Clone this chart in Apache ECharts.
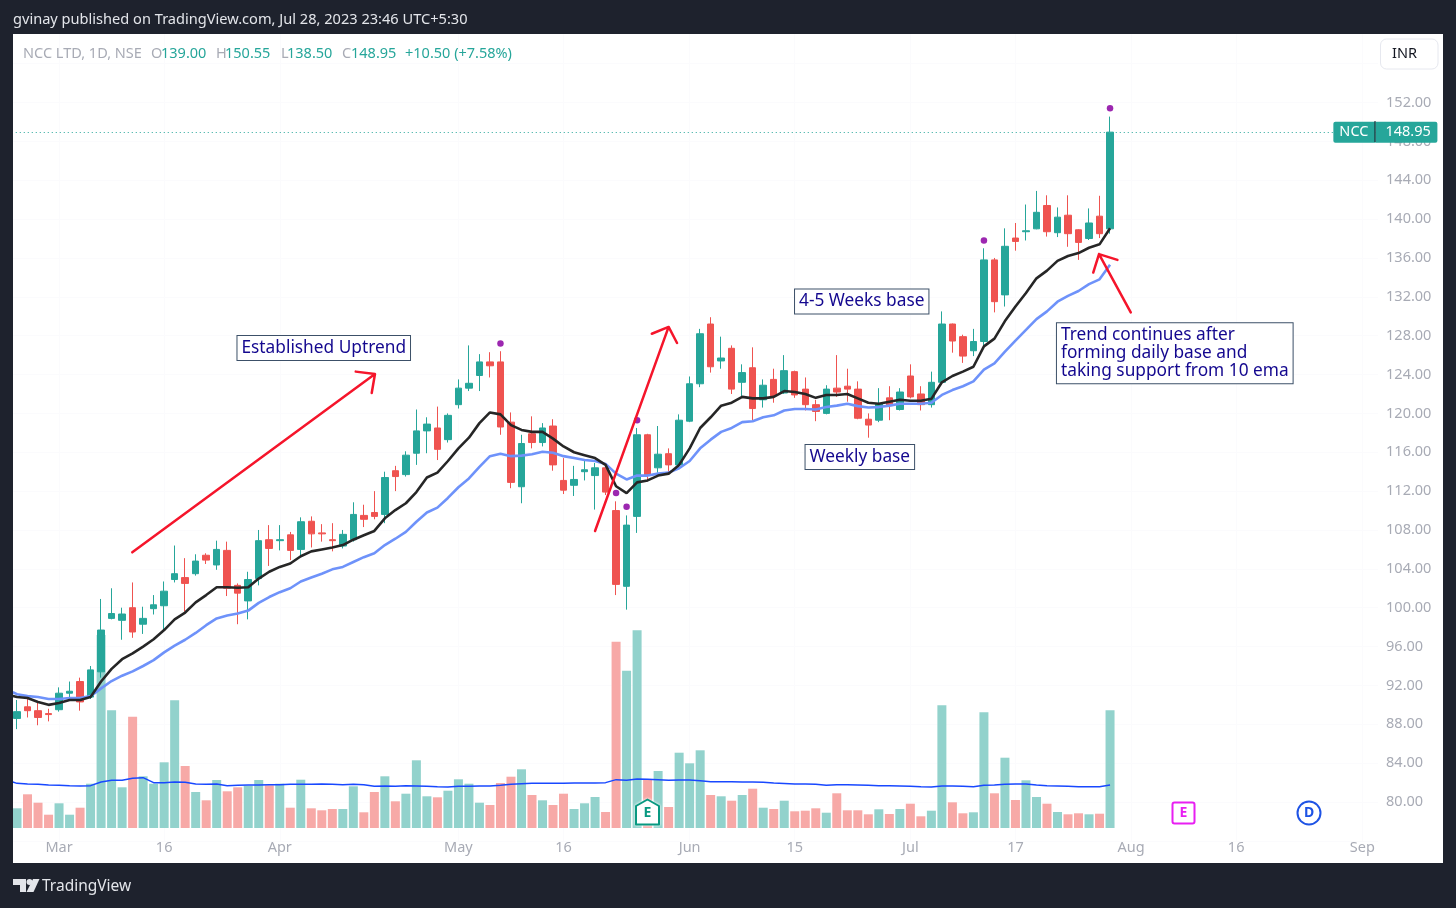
<!DOCTYPE html>
<html>
<head>
<meta charset="utf-8">
<title>NCC LTD, 1D, NSE</title>
<script src="https://cdn.jsdelivr.net/npm/echarts@6/dist/echarts.min.js"></script>
<style>
  html, body { margin: 0; padding: 0; background: #1e222d; }
  #chart { width: 1456px; height: 908px; }
</style>
</head>
<body>
<div id="chart"></div>
<script>
// daily prices
const opens = [88.6,89.8,89.4,89.1,89.5,91.2,92.4,90.8,93.4,98.9,98.7,100.0,98.3,99.9,100.2,102.9,103.1,103.5,105.4,104.4,105.9,102.3,100.7,103.0,107.0,106.9,107.5,106.0,108.9,107.7,107.0,106.35,107.0,109.5,109.8,109.6,114.1,113.7,115.9,118.2,118.5,117.3,120.9,122.6,123.9,125.3,125.3,119.1,112.45,117.9,117.0,118.7,113.1,112.6,114.0,113.6,114.4,110.0,102.2,109.4,117.8,114.4,115.85,114.7,119.2,123.05,129.2,125.4,126.7,123.2,124.7,121.4,123.5,122.1,124.3,122.5,120.9,120.0,122.6,122.8,122.5,119.4,119.3,121.6,120.4,123.85,122.0,120.9,123.2,129.2,127.9,126.45,127.4,135.8,132.2,138.05,138.7,139.0,141.4,138.6,140.4,138.9,138.0,140.3,139.0]
const highs = [90.5,91.0,90.3,89.6,91.8,92.4,92.8,94.0,100.9,102.0,100.0,102.6,100.1,101.3,102.7,106.4,105.1,105.5,105.6,106.9,106.8,102.5,103.7,108.0,108.5,108.5,107.8,109.3,109.4,108.6,108.7,108.0,110.85,110.6,112.0,114.0,114.6,116.1,120.4,119.6,120.7,120.0,123.5,127.0,126.1,126.3,126.4,120.1,117.8,119.7,119.0,119.4,115.4,114.6,115.2,114.9,114.9,110.95,109.5,118.5,117.9,118.7,116.4,119.9,123.8,128.7,129.9,127.9,127.0,125.05,126.8,123.5,124.6,126.0,124.4,123.7,121.4,122.9,126.0,124.6,123.3,120.0,122.6,122.8,122.6,125.05,122.8,124.3,130.5,129.25,128.1,128.7,137.0,136.0,139.05,139.6,141.5,142.9,142.45,141.2,142.45,138.95,141.1,142.4,150.55]
const lows = [87.5,88.7,87.9,88.3,89.3,90.8,89.4,90.6,92.8,98.8,96.7,96.9,97.3,99.3,97.8,102.6,99.6,103.3,104.5,103.9,101.2,98.3,98.8,102.3,104.3,105.9,104.9,105.2,106.2,106.8,105.8,106.1,106.8,108.3,109.1,108.7,112.0,113.5,114.7,115.9,115.2,117.0,120.5,122.3,122.3,123.7,117.8,112.3,110.75,116.4,116.6,114.1,111.7,111.5,113.1,110.1,111.6,101.3,99.8,107.7,113.0,113.9,113.8,114.5,119.1,122.7,124.2,124.6,122.0,121.7,119.3,120.6,121.1,122.0,121.6,120.3,119.2,119.9,121.7,121.2,119.4,117.5,119.1,119.3,120.3,121.55,120.3,120.6,123.1,126.25,125.2,125.9,126.9,130.4,131.0,136.75,137.8,138.95,138.2,138.15,137.15,135.8,137.85,138.05,138.5]
const closes = [89.3,89.4,88.7,89.0,91.2,91.4,90.3,93.6,97.7,99.4,99.35,97.5,98.9,100.3,101.7,103.5,102.5,104.8,104.9,106.0,102.0,101.5,102.9,106.9,106.1,107.0,105.9,108.85,107.6,107.6,106.9,107.55,109.6,109.1,109.4,113.4,113.5,115.7,118.2,118.9,116.3,119.8,122.6,123.1,125.3,124.9,118.6,112.9,116.9,117.0,118.5,114.7,112.1,113.2,114.2,114.4,111.9,102.4,108.5,117.8,113.6,115.8,114.7,119.3,123.05,128.2,124.8,125.7,122.5,124.2,120.5,122.9,121.8,124.4,121.9,120.9,120.2,122.5,122.2,122.5,119.5,118.8,121.0,120.8,122.2,121.7,120.9,123.2,129.2,127.45,125.9,127.4,135.8,131.5,137.2,137.7,138.8,140.7,138.7,140.2,138.5,137.6,139.6,138.5,148.95]

// moving averages on the price
const emaFast = [90.8,90.7,90.3,90.0,90.2,90.5,90.5,90.8,92.4,93.7,94.7,95.3,96.0,96.75,97.7,98.8,99.5,100.55,101.3,102.1,102.1,102.05,102.1,103.0,103.7,104.2,104.55,105.3,105.8,106.0,106.2,106.45,107.0,107.45,107.9,109.2,110.05,110.75,111.9,113.4,113.9,115.1,116.4,117.5,119.0,120.1,119.9,118.8,118.3,118.1,118.1,117.4,116.6,116.0,115.7,115.4,114.7,112.5,111.8,112.9,113.1,113.6,113.8,114.7,116.4,118.5,119.6,120.8,121.1,121.7,121.55,121.55,121.7,122.3,122.2,122.0,121.6,121.9,121.9,122.0,121.55,121.1,121.0,121.2,121.4,121.3,121.3,121.5,123.2,123.85,124.3,124.8,126.9,127.7,129.5,131.0,132.4,133.9,134.7,135.7,136.2,136.5,137.05,137.4,139.05]
const emaSlow = [91.1,90.9,90.8,90.6,90.6,90.7,90.7,90.9,91.7,92.45,93.0,93.45,94.0,94.6,95.4,96.1,96.7,97.4,98.2,98.9,99.2,99.4,99.7,100.5,101.1,101.6,102.0,102.7,103.1,103.5,103.95,104.2,104.7,105.2,105.6,106.45,107.1,107.8,108.85,109.8,110.3,111.3,112.4,113.3,114.5,115.6,115.85,115.6,115.65,115.8,116.05,115.95,115.6,115.4,115.2,115.1,114.8,113.8,113.2,113.6,113.6,113.8,113.9,114.35,115.1,116.4,117.3,118.1,118.5,119.1,119.2,119.6,119.8,120.3,120.45,120.45,120.4,120.65,120.8,121.0,120.75,120.6,120.65,120.8,121.0,121.0,121.0,121.1,121.9,122.4,122.8,123.3,124.5,125.15,126.35,127.5,128.6,129.7,130.5,131.5,132.1,132.6,133.3,133.8,135.3]

// volume, in chart units, and its average
const volumes = [19.7,33.7,25.3,13.3,24.7,13.3,20.3,44.3,193,117.7,40.7,111.3,51.7,44.3,65.7,127.7,62,36,27.7,48,36.7,40.7,42.3,48,42.7,44.3,20.3,48.3,19.7,17.7,19,19,41.7,15.7,36,51.7,26.7,34.3,67.7,31.7,30.7,37.3,48.7,44.3,25.3,23,45,51.3,58.7,33,27.7,23,34.3,19,24.7,31,16,186.3,157.3,197.7,48.3,57,21,75.3,64.7,77.7,33,31.7,27.3,33,39.3,20.3,19,27.3,16.7,17.3,19.7,15.3,34.7,17.7,17.7,13.7,18.7,14,19,24.3,11.7,17.3,122.7,25.7,14.7,15.7,115.7,34.7,70.3,28,47.7,31,24.3,16,13.7,14.7,13.7,14.3,117.7]
const volumeAvg = [44.7,44,43.7,43,42.7,42.3,42,42.3,46,47.7,47.7,49.7,50.3,45.3,45.3,46,45.7,44,43.7,44,42.3,42.7,43,43,43.3,43.3,43.7,43.7,43.7,44,43.7,43.3,43.7,43.3,41.7,42,41.7,42.3,42,41.7,41.3,41,41.7,41.7,42,42,42.7,43.7,44.3,44.7,44.7,44.7,44.7,45,45,45,45.3,48.3,47.7,49,48.7,48.3,47.7,48,48,47.3,46.3,46.3,46.3,46,46,45.7,45,44.5,44,44,43.7,42.7,43.3,43.3,43,42.7,42.3,42.3,42,41.7,41.3,41,42,42,41.7,41.3,42.7,43,43.7,44,44,43,42.3,42,41.7,41.3,41.3,41.3,43]

// where each average comes in at the left edge of the plot, before the first bar
const emaFastEntry = 90.9
const emaSlowEntry = 91.3
const volumeAvgEntry = 46
const entryBar = -0.4

// x axis: 130 slots, 105 traded and the rest future
const slotCount = 130
const tickSlots = [4,14,25,42,52,64,74,85,95,106,116,128]
const tickLabels = ['Mar','16','Apr','May','16','Jun','15','Jul','17','Aug','16','Sep']
const categories = Array.from({ length: slotCount }, (_, i) => {
  const k = tickSlots.indexOf(i)
  return k >= 0 ? tickLabels[k] : 's' + i
})
const priceTicks = [80,84,88,92,96,100,104,108,112,116,120,124,128,132,136,140,144,148,152]

// purple signal dots [bar, price]
const signalDots = [[46,127.2],[57,111.8],[58,110.4],[59,119.3],[92,137.8],[104,151.4]]

// hand drawn arrows, [bar, price] along the pen path
const arrowUptrend = [[10.97,105.7],[34.06,124.05],[32.23,124.3],[34.06,124.05],[33.75,122.1]]
const arrowBounce = [[55.0,107.9],[62.0,128.9],[60.4,128.2],[62.0,128.9],[62.8,127.25]]
const arrowSupport = [[105.97,130.4],[102.95,136.4],[102.4,134.5],[102.95,136.4],[104.7,135.8]]

// text notes [bar at left edge, price at middle, text]
const notes = [
  [20.93,126.73,'Established Uptrend'],
  [73.98,131.52,'4-5 Weeks base'],
  [74.98,115.51,'Weekly base'],
  [98.9,126.2,'Trend continues after\nforming daily base and\ntaking support from 10 ema']
]

const lastClose = 148.95
const UP = '#26a69a'
const DOWN = '#ef5350'
const UP_VOL = '#92d2cc'
const DOWN_VOL = '#f7a9a7'
const GREY = '#a8abb5'
const FONT = '"Noto Sans", sans-serif'
const BAND = 10.51
const PLOT_LEFT = 11.75
const PLOT_W = BAND * slotCount

const chart = echarts.init(document.getElementById('chart'), null, { renderer: 'canvas' })

// line data on the hidden value axes, with the entry point in front
const withEntry = (entry, values) => [[entryBar, entry], ...values.map((v, i) => [i, v])]

const arrowSeries = (data) => ({
  type: 'line',
  xAxisIndex: 2,
  yAxisIndex: 0,
  data,
  symbol: 'none',
  silent: true,
  z: 8,
  lineStyle: { color: '#f5152b', width: 2.5, join: 'round', cap: 'round' }
})

// dark frame, header and footer
const frame = [
  [0, 0, 1456, 34], [0, 0, 13, 908], [1443, 0, 13, 908], [0, 863, 1456, 45]
].map(([x, y, width, height]) => ({
  type: 'rect', z: 100, silent: true, shape: { x, y, width, height }, style: { fill: '#1e222d' }
}))

const label = (x, y, text, fill, size, extra) => ({
  type: 'text', z: 101, silent: true, x, y,
  style: Object.assign({ text, fill, font: (size || 14.5) + 'px ' + FONT, verticalAlign: 'middle' }, extra)
})

const overlay = [
  ...frame,
  label(13, 19.5, 'gvinay published on TradingView.com, Jul 28, 2023 23:46 UTC+5:30', '#e3e5ea', 14.6),
  label(23, 53.5, 'NCC LTD, 1D, NSE', GREY),
  label(151, 53.5, 'O', GREY), label(161, 53.5, '139.00', UP),
  label(216, 53.5, 'H', GREY), label(225, 53.5, '150.55', UP),
  label(281, 53.5, 'L', GREY), label(287, 53.5, '138.50', UP),
  label(342, 53.5, 'C', GREY), label(351, 53.5, '148.95', UP),
  label(405, 53.5, '+10.50 (+7.58%)', UP),
  // currency button
  { type: 'rect', z: 101, silent: true, shape: { x: 1380.5, y: 39, width: 57.5, height: 30, r: 6 }, style: { fill: '#fff', stroke: '#e6e8ef', lineWidth: 1 } },
  label(1392, 54, 'INR', '#131722'),
  // divider inside the last price tag
  { type: 'rect', z: 101, silent: true, shape: { x: 1374.5, y: 121, width: 1, height: 21 }, style: { fill: '#131722' } },
  // earnings flag
  { type: 'polygon', z: 101, silent: true, shape: { points: [[647.5, 799.5], [659, 806], [659, 824.5], [636, 824.5], [636, 806]] }, style: { fill: '#fff', stroke: '#089981', lineWidth: 2, lineJoin: 'round', shadowColor: '#fff', shadowBlur: 3 } },
  label(647.5, 813.5, 'E', '#089981', 14, { align: 'center', font: 'bold 14px ' + FONT }),
  { type: 'rect', z: 101, silent: true, shape: { x: 1172.5, y: 802.5, width: 22, height: 21, r: 2 }, style: { fill: '#fff', stroke: '#e81ff2', lineWidth: 2 } },
  label(1183.5, 813.5, 'E', '#e81ff2', 14, { align: 'center', font: 'bold 14px ' + FONT }),
  { type: 'circle', z: 101, silent: true, shape: { cx: 1309, cy: 813, r: 11.5 }, style: { fill: '#fff', stroke: '#1e53e5', lineWidth: 2 } },
  label(1309, 813.5, 'D', '#1e53e5', 14, { align: 'center', font: 'bold 14px ' + FONT }),
  // footer logo
  { type: 'polygon', z: 101, silent: true, shape: { points: [[13, 879], [26, 879], [26, 892], [20, 892], [20, 885], [13, 885]] }, style: { fill: '#e3e5ea' } },
  { type: 'circle', z: 101, silent: true, shape: { cx: 29.5, cy: 882, r: 3 }, style: { fill: '#e3e5ea' } },
  { type: 'polygon', z: 101, silent: true, shape: { points: [[33, 879], [39.5, 879], [33.5, 892], [26.5, 892]] }, style: { fill: '#e3e5ea' } },
  label(42, 886.5, 'TradingView', '#e3e5ea', 15.5)
]

const option = {
  backgroundColor: '#ffffff',
  animation: false,
  textStyle: { fontFamily: FONT },
  graphic: overlay,
  grid: [
    { left: PLOT_LEFT, width: PLOT_W, top: 24.8, height: 816.06 },
    { left: PLOT_LEFT, width: PLOT_W, top: 628, height: 200 }
  ],
  xAxis: [
    {
      type: 'category',
      gridIndex: 0,
      data: categories,
      axisLine: { show: false },
      axisTick: { show: false },
      splitLine: {
        show: true,
        alignWithLabel: true,
        interval: (i) => tickSlots.includes(i),
        lineStyle: { color: '#fbfbfd' }
      },
      axisLabel: {
        interval: (i) => tickSlots.includes(i),
        formatter: (v) => (tickLabels.includes(v) ? v : ''),
        color: GREY,
        fontSize: 14.5,
        fontFamily: FONT,
        margin: 0,
        hideOverlap: false
      }
    },
    { type: 'category', gridIndex: 1, data: categories, show: false },
    { type: 'value', gridIndex: 0, min: -0.5, max: slotCount - 0.5, show: false },
    { type: 'value', gridIndex: 1, min: -0.5, max: slotCount - 0.5, show: false }
  ],
  yAxis: [
    {
      type: 'value',
      gridIndex: 0,
      position: 'right',
      min: 76,
      max: 160,
      interval: 4,
      axisLine: { show: false },
      axisTick: { show: false },
      splitLine: { show: true, lineStyle: { color: '#fbfbfd' } },
      axisLabel: {
        color: GREY,
        fontSize: 14.5,
        fontFamily: FONT,
        margin: 8,
        formatter: (v) => (priceTicks.includes(v) ? v.toFixed(2) : '')
      }
    },
    { type: 'value', gridIndex: 1, min: 0, max: 200, show: false }
  ],
  series: [
    {
      name: 'Volume',
      type: 'bar',
      xAxisIndex: 1,
      yAxisIndex: 1,
      barWidth: 9,
      z: 1,
      silent: true,
      data: volumes.map((v, i) => ({
        value: v,
        itemStyle: { color: closes[i] >= opens[i] ? UP_VOL : DOWN_VOL }
      }))
    },
    {
      name: 'Volume MA',
      type: 'line',
      xAxisIndex: 3,
      yAxisIndex: 1,
      data: withEntry(volumeAvgEntry, volumeAvg),
      symbol: 'none',
      silent: true,
      z: 2,
      lineStyle: { color: '#1848ff', width: 1.4 }
    },
    {
      name: 'NCC',
      type: 'candlestick',
      xAxisIndex: 0,
      yAxisIndex: 0,
      barWidth: 7,
      z: 3,
      silent: true,
      data: opens.map((o, i) => [o, closes[i], lows[i], highs[i]]),
      itemStyle: { color: UP, color0: DOWN, borderColor: UP, borderColor0: DOWN, borderWidth: 1 },
      markLine: {
        silent: true,
        symbol: 'none',
        label: { show: false },
        lineStyle: { color: UP, type: [1, 3], width: 1 },
        data: [{ yAxis: lastClose }]
      }
    },
    {
      name: 'EMA 21',
      type: 'line',
      xAxisIndex: 2,
      yAxisIndex: 0,
      data: withEntry(emaSlowEntry, emaSlow),
      symbol: 'none',
      silent: true,
      z: 4,
      lineStyle: { color: '#6e92fa', width: 2.6 }
    },
    {
      name: 'EMA 10',
      type: 'line',
      xAxisIndex: 2,
      yAxisIndex: 0,
      data: withEntry(emaFastEntry, emaFast),
      symbol: 'none',
      silent: true,
      z: 5,
      lineStyle: { color: '#262626', width: 2.6 }
    },
    {
      name: 'Signals',
      type: 'scatter',
      xAxisIndex: 2,
      yAxisIndex: 0,
      data: signalDots,
      symbolSize: 6.5,
      silent: true,
      z: 6,
      itemStyle: { color: '#9c27b0', opacity: 1 }
    },
    arrowSeries(arrowUptrend),
    arrowSeries(arrowBounce),
    arrowSeries(arrowSupport),
    {
      name: 'Notes',
      type: 'scatter',
      xAxisIndex: 2,
      yAxisIndex: 0,
      symbolSize: 1,
      silent: true,
      z: 9,
      itemStyle: { color: 'transparent', opacity: 1 },
      data: notes.map((n) => ({ value: [n[0], n[1]], name: n[2] })),
      label: {
        show: true,
        position: 'right',
        distance: 0,
        formatter: '{b}',
        color: '#14088f',
        fontSize: 17.3,
        lineHeight: 18,
        fontFamily: FONT,
        backgroundColor: '#fff',
        borderColor: '#3c5068',
        borderWidth: 1,
        padding: [5, 4, 1, 4]
      }
    },
    {
      name: 'Last price',
      type: 'scatter',
      xAxisIndex: 2,
      yAxisIndex: 0,
      symbolSize: 1,
      silent: true,
      clip: false,
      z: 10,
      itemStyle: { color: 'transparent', opacity: 1 },
      data: [
        { value: [125.2, lastClose], name: 'NCC', label: { width: 36, padding: [0, 0, 0, 6], borderRadius: [2, 0, 0, 2] } },
        { value: [129.2, lastClose], name: lastClose.toFixed(2), label: { width: 52, padding: [0, 0, 0, 10], borderRadius: [0, 2, 2, 0] } }
      ],
      label: {
        show: true,
        position: 'right',
        distance: 0,
        formatter: '{b}',
        color: '#fff',
        fontSize: 14.5,
        fontFamily: FONT,
        backgroundColor: UP,
        height: 21,
        lineHeight: 21
      }
    }
  ]
}

chart.setOption(option)
</script>
</body>
</html>
